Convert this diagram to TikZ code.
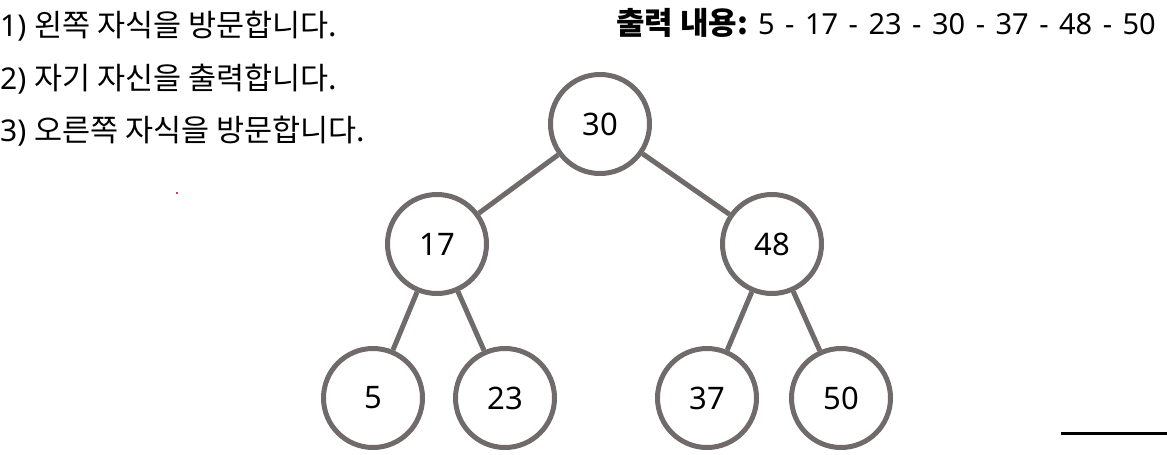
\documentclass[tikz,border=0pt]{standalone}
\usepackage{fontspec}
\setmainfont{Noto Sans}
\newfontfamily\kr{Noto Sans CJK KR}
\definecolor{ringgray}{RGB}{112,106,107}
\begin{document}
\begin{tikzpicture}[x=1pt,y=-1pt,
  treenode/.style={circle,draw=ringgray,line width=5pt,minimum size=99pt,inner sep=0pt,fill=white,font=\fontsize{31}{34}\selectfont},
  treeedge/.style={draw=ringgray,line width=5pt},
  steptext/.style={anchor=west,inner sep=0pt,font=\fontsize{30}{34}\selectfont}]
\useasboundingbox (0,0) rectangle (1167,455);
\node[steptext] (s1) at (0,26) {1) {\kr\fontsize{30.5}{34}\selectfont 왼쪽 자식을 방문합니다.}};
\node[steptext] (s2) at (0,79) {2) {\kr\fontsize{30.5}{34}\selectfont 자기 자신을 출력합니다.}};
\node[steptext] (s3) at (0,131) {3) {\kr\fontsize{30.5}{34}\selectfont 오른쪽 자식을 방문합니다.}};
\node[anchor=east,inner sep=0pt,font=\fontsize{29}{34}\selectfont] (out) at (1156,23) {{\kr\bfseries\fontsize{31}{34}\selectfont 출력 내용:} {\spaceskip=10.5pt 5 - 17 - 23 - 30 - 37 - 48 - 50}};
\node[treenode] (n30) at (600,124) {30};
\node[treenode] (n17) at (437,244) {17};
\node[treenode] (n48) at (772,244) {48};
\node[treenode] (n5) at (373,398) {5};
\node[treenode] (n23) at (505,398) {23};
\node[treenode] (n37) at (707,398) {37};
\node[treenode] (n50) at (841,398) {50};
\path[treeedge] (n30) -- (n17);
\path[treeedge] (n30) -- (n48);
\path[treeedge] (n17) -- (n5);
\path[treeedge] (n17) -- (n23);
\path[treeedge] (n48) -- (n37);
\path[treeedge] (n48) -- (n50);
\coordinate (la) at (1061,433.5);
\coordinate (lb) at (1167,433.5);
\draw[line width=3pt,black] (la) -- (lb);
\fill[red!80!black] (177,193) circle (1.2pt);
\end{tikzpicture}
\end{document}
